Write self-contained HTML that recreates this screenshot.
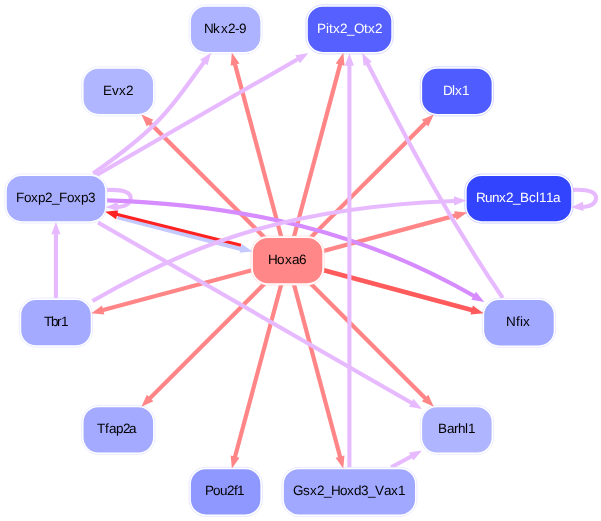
<!DOCTYPE html>
<html><head><meta charset="utf-8"><title>Network</title>
<style>
html,body{margin:0;padding:0;background:#fff;overflow:hidden}
svg{display:block}
text{font-family:"Liberation Sans",sans-serif;font-size:13.5px;text-rendering:geometricPrecision}
</style></head><body>
<svg width="601" height="521" viewBox="0 0 601 521">
<rect width="601" height="521" fill="#fff"/>
<g stroke-linecap="butt">
<path d="M107,190 c18,-1 24,3 23.7,8.5 c-0.3,5.5 -6.5,8 -13.2,8.6" stroke="#e7baff" stroke-width="4.1" fill="none"/>
<path d="M572.3,189.9 c18,-1 24,3 23.7,8.5 c-0.3,5.5 -6.5,8 -13.2,8.6" stroke="#e7baff" stroke-width="4.1" fill="none"/>
<line x1="287.60" y1="260.60" x2="234.83" y2="63.65" stroke="#ff8587" stroke-width="4.2"/>
<line x1="287.60" y1="260.60" x2="340.37" y2="63.65" stroke="#ff8587" stroke-width="4.2"/>
<line x1="287.60" y1="260.60" x2="149.42" y2="122.42" stroke="#ff8587" stroke-width="4.2"/>
<line x1="287.60" y1="260.60" x2="425.78" y2="122.42" stroke="#ff8587" stroke-width="4.2"/>
<line x1="287.60" y1="260.60" x2="456.31" y2="215.35" stroke="#ff8587" stroke-width="4.2"/>
<line x1="287.60" y1="260.60" x2="102.22" y2="310.26" stroke="#ff8587" stroke-width="4.2"/>
<line x1="287.60" y1="260.60" x2="149.42" y2="398.78" stroke="#ff8587" stroke-width="4.2"/>
<line x1="287.60" y1="260.60" x2="425.78" y2="398.78" stroke="#ff8587" stroke-width="4.2"/>
<line x1="287.60" y1="260.60" x2="234.83" y2="457.55" stroke="#ff8587" stroke-width="4.2"/>
<line x1="287.60" y1="260.60" x2="340.28" y2="457.56" stroke="#ff8587" stroke-width="4.2"/>
<line x1="287.60" y1="260.60" x2="472.64" y2="310.31" stroke="#ff5a5c" stroke-width="4.7"/>
<line x1="117.5" y1="217.3" x2="241.8" y2="249.2" stroke="#c4c9ff" stroke-width="4"/>
<line x1="241" y1="245.3" x2="116.5" y2="214.2" stroke="#ff2222" stroke-width="3.0"/>
<path d="M106.50,200.40 C246.52,205.17 362.65,231.75 474.54,296.29" stroke="#d68cff" stroke-width="4.1" fill="none"/>
<line x1="55.95" y1="322.65" x2="55.95" y2="233.20" stroke="#e7baff" stroke-width="4.1"/>
<line x1="391.25" y1="467.25" x2="412.02" y2="456.00" stroke="#e7baff" stroke-width="4.1"/>
<path d="M502.75,298.00 C447.80,216.95 410.96,148.00 367.30,63.04" stroke="#e7baff" stroke-width="4.1" fill="none"/>
<line x1="98.00" y1="222.50" x2="412.15" y2="403.26" stroke="#e7baff" stroke-width="4.1"/>
<path d="M93.10,173.40 C165.48,122.83 172.92,103.89 204.37,61.67" stroke="#e7baff" stroke-width="4.1" fill="none"/>
<line x1="55.95" y1="198.55" x2="298.50" y2="58.74" stroke="#e7baff" stroke-width="4.1"/>
<path d="M92.50,301.00 C199.35,239.26 297.48,206.62 455.01,200.94" stroke="#e7baff" stroke-width="4.1" fill="none"/>
<line x1="349.40" y1="470.00" x2="349.40" y2="64.80" stroke="#e7baff" stroke-width="4.1"/>
</g>
<g style="will-change:transform">
<rect x="189.94" y="5.76" width="71.40" height="47.20" rx="15.95" ry="15.95" fill="#adb3ff" stroke="#fff" stroke-width="1.9"/>
<rect x="188.99" y="4.81" width="73.30" height="49.10" rx="16.9" ry="16.9" fill="none" stroke="#dadcff" stroke-width="0.5"/>
<text x="204 213 221 228 235 239" y="32.70" fill="#000">Nkx2-9</text>
<rect x="306.86" y="5.76" width="85.40" height="47.20" rx="15.95" ry="15.95" fill="#5560ff" stroke="#fff" stroke-width="1.9"/>
<rect x="305.91" y="4.81" width="87.30" height="49.10" rx="16.9" ry="16.9" fill="none" stroke="#b2b7ff" stroke-width="0.5"/>
<text x="317 326 329 333 340 347 354 364 368 375" y="32.70" fill="#fff">Pitx2_Otx2</text>
<rect x="82.62" y="67.72" width="71.40" height="47.20" rx="15.95" ry="15.95" fill="#b0b6ff" stroke="#fff" stroke-width="1.9"/>
<rect x="81.67" y="66.77" width="73.30" height="49.10" rx="16.9" ry="16.9" fill="none" stroke="#dbdeff" stroke-width="0.5"/>
<text x="103 112 119 126" y="94.70" fill="#000">Evx2</text>
<rect x="421.18" y="67.72" width="71.40" height="47.20" rx="15.95" ry="15.95" fill="#4f5cff" stroke="#fff" stroke-width="1.9"/>
<rect x="420.23" y="66.77" width="73.30" height="49.10" rx="16.9" ry="16.9" fill="none" stroke="#afb5ff" stroke-width="0.5"/>
<text x="443 452 455 462" y="94.70" fill="#fff">Dlx1</text>
<rect x="5.80" y="174.95" width="100.30" height="47.20" rx="15.95" ry="15.95" fill="#a8aeff" stroke="#fff" stroke-width="1.9"/>
<rect x="4.85" y="174.00" width="102.20" height="49.10" rx="16.9" ry="16.9" fill="none" stroke="#d7daff" stroke-width="0.5"/>
<text x="16 24 31 38 45 52 59 67 74 81 88" y="201.70" fill="#000">Foxp2_Foxp3</text>
<rect x="465.70" y="174.95" width="106.50" height="47.20" rx="15.95" ry="15.95" fill="#3344ff" stroke="#fff" stroke-width="1.9"/>
<rect x="464.75" y="174.00" width="108.40" height="49.10" rx="16.9" ry="16.9" fill="none" stroke="#a3aaff" stroke-width="0.5"/>
<text x="476 485 492 499 506 513 520 529 536 539 546 553" y="201.70" fill="#fff">Runx2_Bcl11a</text>
<rect x="20.25" y="299.05" width="71.40" height="47.20" rx="15.95" ry="15.95" fill="#a3aaff" stroke="#fff" stroke-width="1.9"/>
<rect x="19.30" y="298.10" width="73.30" height="49.10" rx="16.9" ry="16.9" fill="none" stroke="#d5d8ff" stroke-width="0.5"/>
<text x="44 51 57 61" y="325.70" fill="#000">Tbr1</text>
<rect x="483.20" y="299.15" width="71.50" height="47.20" rx="15.95" ry="15.95" fill="#a0a8ff" stroke="#fff" stroke-width="1.9"/>
<rect x="482.25" y="298.20" width="73.40" height="49.10" rx="16.9" ry="16.9" fill="none" stroke="#d4d7ff" stroke-width="0.5"/>
<text x="506 516 520 523" y="325.70" fill="#000">Nfix</text>
<rect x="82.62" y="406.28" width="71.40" height="47.20" rx="15.95" ry="15.95" fill="#a3aaff" stroke="#fff" stroke-width="1.9"/>
<rect x="81.67" y="405.33" width="73.30" height="49.10" rx="16.9" ry="16.9" fill="none" stroke="#d5d8ff" stroke-width="0.5"/>
<text x="97 105 109 116 123 129" y="432.70" fill="#000">Tfap2a</text>
<rect x="421.18" y="406.28" width="71.40" height="47.20" rx="15.95" ry="15.95" fill="#b0b5ff" stroke="#fff" stroke-width="1.9"/>
<rect x="420.23" y="405.33" width="73.30" height="49.10" rx="16.9" ry="16.9" fill="none" stroke="#dbddff" stroke-width="0.5"/>
<text x="438 447 454 458 465 468" y="432.70" fill="#000">Barhl1</text>
<rect x="189.94" y="468.24" width="71.40" height="47.20" rx="15.95" ry="15.95" fill="#8f98ff" stroke="#fff" stroke-width="1.9"/>
<rect x="188.99" y="467.29" width="73.30" height="49.10" rx="16.9" ry="16.9" fill="none" stroke="#ccd0ff" stroke-width="0.5"/>
<text x="205 213 220 227 234 237" y="494.70" fill="#000">Pou2f1</text>
<rect x="282.90" y="468.25" width="133.10" height="47.20" rx="15.95" ry="15.95" fill="#a0a8ff" stroke="#fff" stroke-width="1.9"/>
<rect x="281.95" y="467.30" width="135.00" height="49.10" rx="16.9" ry="16.9" fill="none" stroke="#d4d7ff" stroke-width="0.5"/>
<text x="293 303 310 317 324 331 340 347 354 361 368 375 384 391 398" y="494.70" fill="#000">Gsx2_Hoxd3_Vax1</text>
<rect x="251.90" y="237.00" width="71.40" height="47.20" rx="15.95" ry="15.95" fill="#ff8787" stroke="#fff" stroke-width="1.9"/>
<rect x="250.95" y="236.05" width="73.30" height="49.10" rx="16.9" ry="16.9" fill="none" stroke="#ffc9c9" stroke-width="0.5"/>
<text x="268 277 285 292 299" y="263.70" fill="#000">Hoxa6</text>
</g>
<g>
<polygon points="231.90,52.73 239.53,63.42 230.64,65.81" fill="#ff8587"/>
<polygon points="343.30,52.73 344.56,65.81 335.67,63.42" fill="#ff8587"/>
<polygon points="141.43,114.43 153.38,119.87 146.87,126.38" fill="#ff8587"/>
<polygon points="433.77,114.43 428.33,126.38 421.82,119.87" fill="#ff8587"/>
<polygon points="467.23,212.42 456.54,220.05 454.16,211.17" fill="#ff8587"/>
<polygon points="91.30,313.18 101.99,305.55 104.37,314.44" fill="#ff8587"/>
<polygon points="141.43,406.77 146.87,394.82 153.38,401.33" fill="#ff8587"/>
<polygon points="433.77,406.77 421.82,401.33 428.33,394.82" fill="#ff8587"/>
<polygon points="231.90,468.47 230.64,455.39 239.53,457.78" fill="#ff8587"/>
<polygon points="343.20,468.47 335.58,457.78 344.46,455.40" fill="#ff8587"/>
<polygon points="483.55,313.24 470.48,314.49 472.87,305.61" fill="#ff5a5c"/>
<polygon points="252.58,251.39 239.53,252.87 241.76,243.95" fill="#c4c9ff"/>
<polygon points="105.22,211.81 118.27,210.33 116.04,219.25" fill="#ff2222"/>
<polygon points="484.29,302.00 471.35,299.75 476.01,291.81" fill="#d68cff"/>
<polygon points="55.95,221.90 60.55,234.20 51.35,234.20" fill="#e7baff"/>
<polygon points="421.95,450.62 413.33,460.52 408.95,452.43" fill="#e7baff"/>
<polygon points="362.13,52.99 371.84,61.83 363.66,66.03" fill="#e7baff"/>
<polygon points="421.94,408.90 408.99,406.75 413.58,398.78" fill="#e7baff"/>
<polygon points="211.18,52.66 207.43,65.25 200.09,59.70" fill="#e7baff"/>
<polygon points="308.29,53.10 299.93,63.23 295.34,55.26" fill="#e7baff"/>
<polygon points="466.30,200.57 454.15,205.57 453.86,196.37" fill="#e7baff"/>
<polygon points="349.40,53.50 354.00,65.80 344.80,65.80" fill="#e7baff"/>
<polygon points="105.70,207.25 117.70,201.92 118.25,211.10" fill="#e7baff"/>
<polygon points="571.00,207.15 583.00,201.82 583.55,211.00" fill="#e7baff"/>
</g>
</svg>
</body></html>
